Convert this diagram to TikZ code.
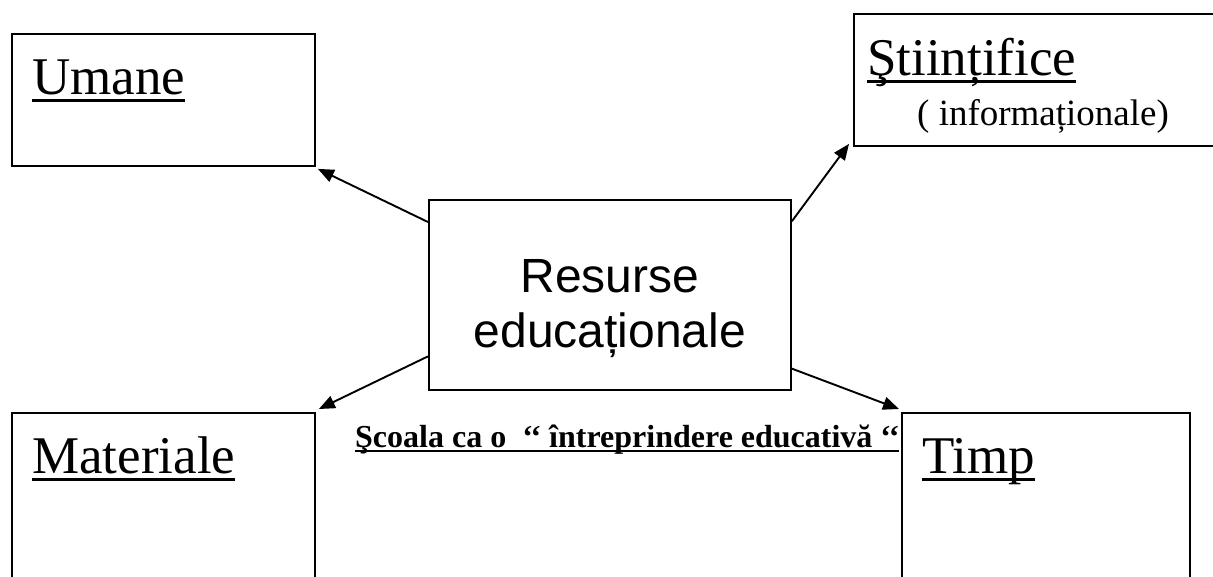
\documentclass[tikz,border=0pt]{standalone}
\usepackage{fontspec}
\setmainfont{Liberation Serif}
\newfontfamily\arialfont{Liberation Sans}
\usetikzlibrary{arrows.meta,calc}
\newcommand\ulword[1]{\setbox0\hbox{#1}\rlap{\rule[-0.15em]{\wd0}{0.05em}}\box0}
\newcommand\ulbold[1]{\setbox0\hbox{#1}\rlap{\rule[-0.17em]{\wd0}{0.08em}}\box0}
\tikzset{
  rbox/.style={draw=black, line width=1.9pt, fill=white, inner sep=0pt, anchor=north west},
  lbl/.style={inner sep=0pt, anchor=base west, font=\fontsize{53}{60}\selectfont},
  arr/.style={line width=1.9pt, -{Triangle[length=16pt,width=13pt]}}
}
\begin{document}
\begin{tikzpicture}[x=1pt,y=-1pt]
\useasboundingbox[fill=white] (0,0) rectangle (1213,576);
% bottom caption (partly hidden by the Timp box)
\node[inner sep=0pt, anchor=base west, font=\bfseries\fontsize{32}{36}\selectfont] (cap) at (355,447) {\ulbold{Şcoala ca o~ ‘‘ întreprindere educativă ‘‘}};
% boxes
\node[rbox, minimum width=303pt, minimum height=132pt] (u) at (11,33) {};
\node[rbox, minimum width=380pt, minimum height=132pt] (s) at (853,13) {};
\node[rbox, minimum width=362pt, minimum height=190pt] (c) at (428,199) {};
\node[rbox, minimum width=303pt, minimum height=180pt] (m) at (11,412) {};
\node[rbox, minimum width=288pt, minimum height=180pt] (t) at (901,412) {};
% labels
\node[lbl] (ut) at (32,94) {\ulword{Umane}};
\node[lbl] (st) at (867,75) {\ulword{Ştiințifice}};
\node[inner sep=0pt, anchor=base west, font=\fontsize{37}{42}\selectfont] (si) at (917,125) {( informaționale)};
\node[lbl] (mt) at (32,473) {\ulword{Materiale}};
\node[lbl] (tt) at (922,473) {\ulword{Timp}};
\node[inner sep=0pt, align=center, font=\arialfont\fontsize{48}{55}\selectfont] (ct) at ([yshift=-14pt]c.center) {Resurse\\educaționale};
% connectors
\draw[arr] ($(c.north west)!0.12!(c.south west)$) -- ([shift={(2,2)}]u.south east);
\draw[arr] ($(c.north east)!0.116!(c.south east)$) -- ([shift={(-4,-3)}]s.south west);
\draw[arr] ($(c.north west)!0.82!(c.south west)$) -- ([shift={(3,-3)}]m.north east);
\draw[arr] ($(c.north east)!0.884!(c.south east)$) -- ([shift={(-2,-3)}]t.north west);
\end{tikzpicture}
\end{document}
